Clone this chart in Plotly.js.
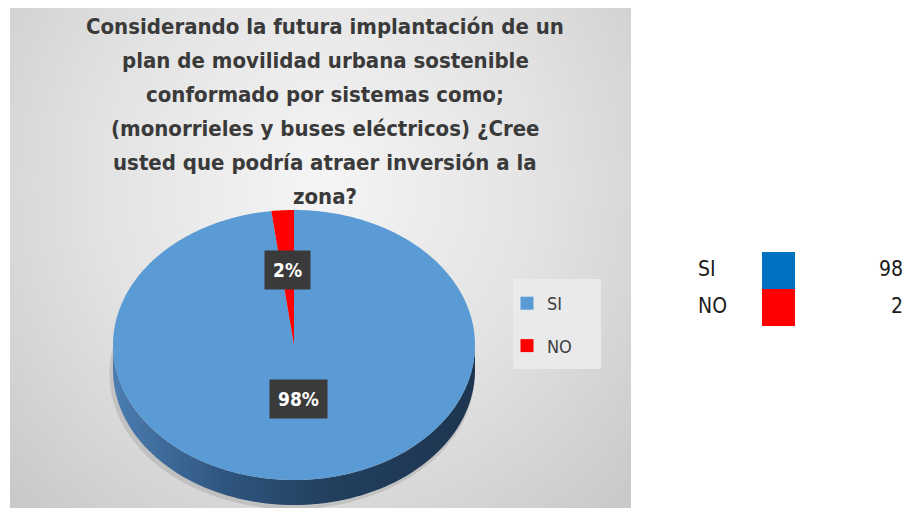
<!DOCTYPE html>
<html>
<head>
<meta charset="utf-8">
<script src="https://cdn.plot.ly/plotly-3.0.1.min.js"></script>
<style>
  html, body { margin:0; padding:0; background:#ffffff; }
  #wrap { position:relative; width:913px; height:508px; }
  #bg { position:absolute; left:10px; top:8px; width:621px; height:500px;
        background: radial-gradient(ellipse at 50% 35%, #f5f5f5 0%, #e3e3e3 50%, #c8c8c8 100%); }
  #chart { position:absolute; left:0; top:0; width:913px; height:508px; }
</style>
</head>
<body>
<div id="wrap"><div id="bg"></div><div id="chart"></div></div>
<script>
// ---- data ----
const categories = ['SI', 'NO'];
const values = [98, 2];
const titleLines = [
  'Considerando la futura implantación de un',
  'plan de movilidad urbana sostenible',
  'conformado por sistemas como;',
  '(monorrieles y buses eléctricos) ¿Cree',
  'usted que podría atraer inversión a la',
  'zona?'
];
const sliceColors = ['#5b9bd5', '#ff0000'];
const tableSwatchColors = ['#0070c0', '#ff0000'];

// ---- geometry / style settings ----
const W = 913, H = 508;
const cxPx = 294, cyPx = 345, rxPx = 181, ryPx = 135, depthPx = 25;
const areaL = 10, areaR = 631, areaT = 8, areaB = 508;
const xRange = [(areaL - cxPx) / rxPx, (areaR - cxPx) / rxPx];
const yRange = [(cyPx - areaB) / ryPx, (cyPx - areaT) / ryPx];
const depth = depthPx / ryPx;
const labelRadius = [0.40, 0.56];
const titleFont = 'Liberation Sans Narrow, DejaVu Sans Condensed, Arial Narrow, sans-serif';
const bodyFont = 'Liberation Sans Narrow, DejaVu Sans Condensed, Arial Narrow, sans-serif';

const total = values.reduce((a, b) => a + b, 0);
const rad = d => d * Math.PI / 180;

const traces = [];

// soft shadow under the pie
const shx = [], shy = [];
for (let a = 0; a <= 360; a += 3) { shx.push(1.01 * Math.cos(rad(a)) - 0.01); shy.push(1.0 * Math.sin(rad(a)) - depth - 0.03); }
traces.push({
  type: 'scatter', x: shx, y: shy, mode: 'none', fill: 'toself',
  fillcolor: 'rgba(90,90,90,0.18)', hoverinfo: 'skip', showlegend: false
});

// 3D side band (front half of the ellipse extruded downward)
const sx = [], sy = [];
for (let a = 180; a <= 360; a += 2) { sx.push(Math.cos(rad(a))); sy.push(Math.sin(rad(a))); }
for (let a = 360; a >= 180; a -= 2) { sx.push(Math.cos(rad(a))); sy.push(Math.sin(rad(a)) - depth); }
traces.push({
  type: 'scatter', x: sx, y: sy, mode: 'none', fill: 'toself',
  fillgradient: { type: 'horizontal',
    colorscale: [[0, '#4b7db0'], [0.3, '#2f5680'], [0.6, '#223f5e'], [1, '#1d3550']] },
  hoverinfo: 'skip', showlegend: false
});

// top slices (start at 12 o'clock, clockwise)
let cum = 0;
const annotations = [];
values.forEach((v, i) => {
  const f = v / total;
  const a0 = 90 - cum * 360, a1 = 90 - (cum + f) * 360;
  const px = [0], py = [0];
  const n = Math.max(4, Math.ceil(Math.abs(a1 - a0)));
  for (let k = 0; k <= n; k++) {
    const a = a0 + (a1 - a0) * k / n;
    px.push(Math.cos(rad(a))); py.push(Math.sin(rad(a)));
  }
  px.push(0); py.push(0);
  traces.push({
    type: 'scatter', x: px, y: py, mode: 'none', fill: 'toself',
    fillcolor: sliceColors[i], hoverinfo: 'skip', showlegend: false
  });
  const mid = (a0 + a1) / 2;
  annotations.push({
    xref: 'x', yref: 'y',
    x: labelRadius[i] * Math.cos(rad(mid)), y: labelRadius[i] * Math.sin(rad(mid)),
    text: '<b>' + Math.round(f * 100) + '%</b>', showarrow: false,
    bgcolor: '#3a3a3a', borderpad: 8,
    font: { family: bodyFont, size: 19, color: '#ffffff' }
  });
  cum += f;
});

// legend entries
categories.forEach((c, i) => {
  traces.push({
    type: 'scatter', x: [null], y: [null], mode: 'markers', name: c,
    legendgroup: c, marker: { symbol: 'square', size: 13, color: sliceColors[i] },
    hoverinfo: 'skip'
  });
});

// right-hand table
traces.push({
  type: 'table',
  domain: { x: [690 / W, 911 / W], y: [(H - 330) / H, (H - 236) / H] },
  columnwidth: [72, 33, 116],
  header: { values: [], height: 0, line: { width: 0 }, fill: { color: 'rgba(0,0,0,0)' } },
  cells: {
    values: [categories, categories.map(() => ''), values],
    height: 37,
    align: ['left', 'center', 'right'],
    fill: { color: [categories.map(() => 'rgba(0,0,0,0)'), tableSwatchColors, categories.map(() => 'rgba(0,0,0,0)')] },
    line: { width: 0, color: 'rgba(0,0,0,0)' },
    font: { family: bodyFont, size: 21, color: '#1a1a1a' }
  }
});

// title lines
const lineStartPx = 26, lineGapPx = 34;
titleLines.forEach((t, i) => {
  annotations.push({
    xref: 'paper', yref: 'paper',
    x: 325 / W, y: (H - (lineStartPx + i * lineGapPx)) / H,
    xanchor: 'center', yanchor: 'middle',
    text: '<b>' + t + '</b>', showarrow: false,
    font: { family: titleFont, size: 22, color: '#3a3a3a' }
  });
});

const layout = {
  width: W, height: H,
  margin: { l: 0, r: 0, t: 0, b: 0 },
  paper_bgcolor: 'rgba(0,0,0,0)', plot_bgcolor: 'rgba(0,0,0,0)',
  xaxis: { domain: [areaL / W, areaR / W], range: xRange, visible: false, fixedrange: true },
  yaxis: { domain: [0, (H - areaT) / H], range: yRange, visible: false, fixedrange: true },
  showlegend: true,
  legend: {
    x: 507 / W, y: (H - 285) / H, xanchor: 'left', yanchor: 'top',
    bgcolor: 'rgba(0,0,0,0)', font: { family: bodyFont, size: 18, color: '#404040' },
    tracegroupgap: 16, itemwidth: 30, borderwidth: 0
  },
  shapes: [{
    type: 'rect', xref: 'paper', yref: 'paper', layer: 'below',
    x0: 513 / W, x1: 601 / W, y0: (H - 369) / H, y1: (H - 279) / H,
    fillcolor: '#eaeaea', line: { width: 0 }
  }],
  annotations: annotations
};

Plotly.newPlot('chart', traces, layout, { displayModeBar: false, staticPlot: true });
</script>
</body>
</html>
